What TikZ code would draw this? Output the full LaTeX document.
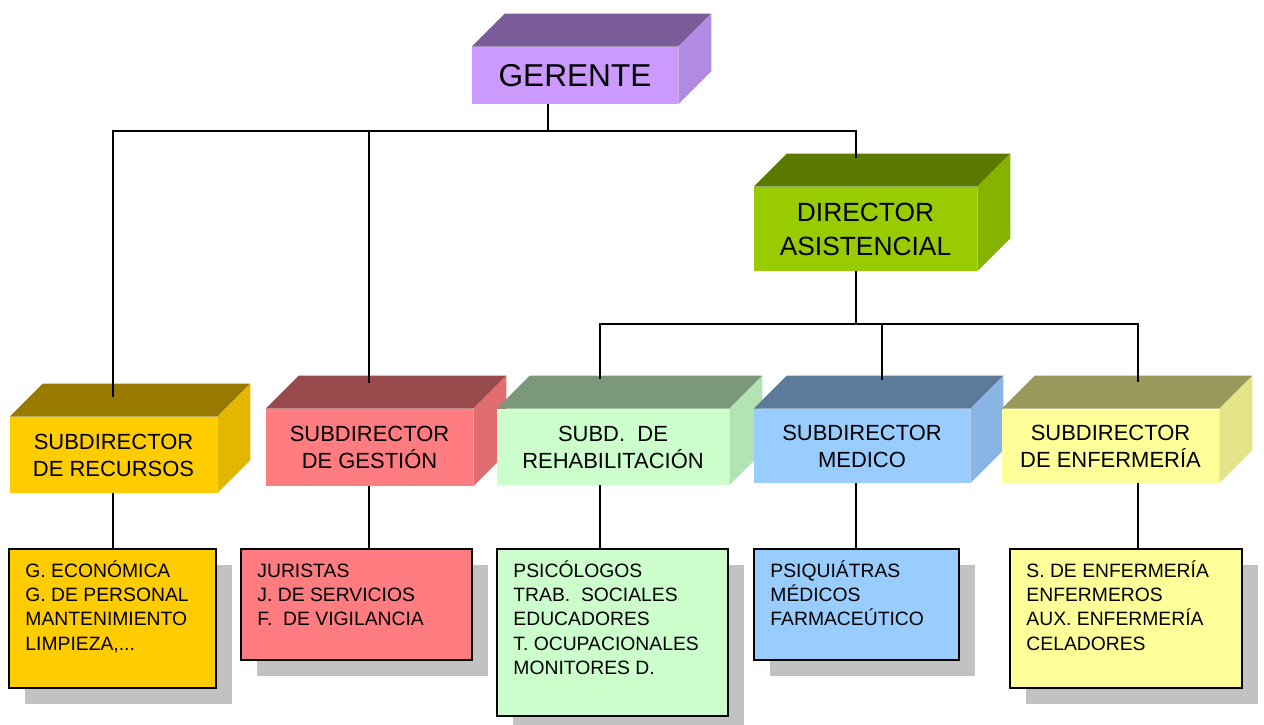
\documentclass[tikz,border=0pt]{standalone}
\usepackage{fontspec}
\setmainfont{Liberation Sans}
\usepackage{xcolor}
\usetikzlibrary{calc,backgrounds,shadows}
\definecolor{gerfront}{HTML}{CC99FF}
\definecolor{gertop}{HTML}{7A5C99}
\definecolor{gerside}{HTML}{B38AE3}
\definecolor{dirfront}{HTML}{99CC00}
\definecolor{dirtop}{HTML}{5C7A00}
\definecolor{dirside}{HTML}{85B300}
\definecolor{recfront}{HTML}{FFCC00}
\definecolor{rectop}{HTML}{997A00}
\definecolor{recside}{HTML}{E3B600}
\definecolor{gesfront}{HTML}{FF7C80}
\definecolor{gestop}{HTML}{994A4D}
\definecolor{gesside}{HTML}{E06D70}
\definecolor{rehfront}{HTML}{CCFFCC}
\definecolor{rehtop}{HTML}{7A997A}
\definecolor{rehside}{HTML}{B3E3B3}
\definecolor{medfront}{HTML}{99CCFF}
\definecolor{medtop}{HTML}{5C7A99}
\definecolor{medside}{HTML}{88B5E3}
\definecolor{enffront}{HTML}{FFFF99}
\definecolor{enftop}{HTML}{99995C}
\definecolor{enfside}{HTML}{E3E388}
\definecolor{shadowgray}{HTML}{C2C2C2}

\begin{document}
\begin{tikzpicture}[
    x=0.02cm, y=-0.02cm,
    cube/.style={rectangle, inner sep=0pt, align=center},
    subbox/.style={cube, font=\fontsize{12.5}{15.3}\selectfont},
    listbox/.style={rectangle, draw=black, line width=1.1pt, inner sep=0pt,
        drop shadow={shadow xshift=0.32cm, shadow yshift=-0.32cm, fill=shadowgray, opacity=1}},
    listtext/.style={anchor=base west, align=left, inner sep=0pt, font=\fontsize{11}{13.8}\selectfont},
    link/.style={draw=black, line width=1pt}
]
    \useasboundingbox (0,0) rectangle (1264,724);

    % Node Gerente and Director
    \node (ger) [cube, fill=gerfront, minimum width=4.12cm, minimum height=1.14cm, font=\fontsize{18}{21}\selectfont] at (575,75.5) {GERENTE};
    \node (dir) [cube, fill=dirfront, minimum width=4.46cm, minimum height=1.68cm, font=\fontsize{15}{19.3}\selectfont] at (865.5,229) {DIRECTOR\\ASISTENCIAL};

    % Node Subdirectores
    \node (srec) [subbox, fill=recfront, minimum width=4.14cm, minimum height=1.52cm] at (113.5,455) {SUBDIRECTOR\\DE RECURSOS};
    \node (sges) [subbox, fill=gesfront, minimum width=4.14cm, minimum height=1.54cm] at (369.5,447.5) {SUBDIRECTOR\\DE GESTIÓN};
    \node (sreh) [subbox, fill=rehfront, minimum width=4.64cm, minimum height=1.52cm] at (613,447) {SUBD.\ \ DE\\REHABILITACIÓN};
    \node (smed) [subbox, fill=medfront, minimum width=4.32cm, minimum height=1.48cm] at (862,446) {SUBDIRECTOR\\MEDICO};
    \node (senf) [subbox, fill=enffront, minimum width=4.34cm, minimum height=1.48cm] at (1110.5,446) {SUBDIRECTOR\\DE ENFERMERÍA};

    % Top and side faces
    \begin{scope}[on background layer]
        \foreach \n/\t/\s in {ger/gertop/gerside, dir/dirtop/dirside, srec/rectop/recside, sges/gestop/gesside,
                              sreh/rehtop/rehside, smed/medtop/medside, senf/enftop/enfside} {
            \fill[\t] (\n.north west) -- ++(33,-33) -- ($(\n.north east)+(33,-33)$) -- (\n.north east) -- cycle;
            \fill[\s] (\n.north east) -- ++(33,-33) -- ($(\n.south east)+(33,-33)$) -- (\n.south east) -- cycle;
        }
    \end{scope}

    % Node Lists
    \node (lrec) [listbox, fill=recfront, minimum width=4.14cm, minimum height=2.78cm] at (112.5,618.5) {};
    \node (lges) [listbox, fill=gesfront, minimum width=4.62cm, minimum height=2.22cm] at (356.5,604.5) {};
    \node (lreh) [listbox, fill=rehfront, minimum width=4.62cm, minimum height=3.34cm] at (612.5,632.5) {};
    \node (lmed) [listbox, fill=medfront, minimum width=4.10cm, minimum height=2.22cm] at (856.5,604.5) {};
    \node (lenf) [listbox, fill=enffront, minimum width=4.64cm, minimum height=2.78cm] at (1126,618.5) {};

    % list texts (base is the last line)
    \node (lrect) [listtext] at ($(lrec.north west)+(17,102)$) {G. ECONÓMICA\\G. DE PERSONAL\\MANTENIMIENTO\\LIMPIEZA,...};
    \node (lgest) [listtext] at ($(lges.north west)+(17,77.6)$) {JURISTAS\\J. DE SERVICIOS\\F.\ \ DE VIGILANCIA};
    \node (lreht) [listtext] at ($(lreh.north west)+(17,126.2)$) {PSICÓLOGOS\\TRAB.\ \ SOCIALES\\EDUCADORES\\T. OCUPACIONALES\\MONITORES D.};
    \node (lmedt) [listtext] at ($(lmed.north west)+(17,77.6)$) {PSIQUIÁTRAS\\MÉDICOS\\FARMACEÚTICO};
    \node (lenft) [listtext] at ($(lenf.north west)+(17,102)$) {S. DE ENFERMERÍA\\ENFERMEROS\\AUX. ENFERMERÍA\\CELADORES};

    % Connectors
    \coordinate (gbus) at (548,131);
    \coordinate (dbus) at (856,324);
    \coordinate (dirin) at (856,158);
    \coordinate (srecin) at (113,397);
    \coordinate (sgesin) at (369,383);
    \coordinate (srehin) at (600,379);
    \coordinate (smedin) at (882,380);
    \coordinate (senfin) at (1138,382);

    \draw [link] (ger.south -| gbus) -- (gbus);
    \draw [link] (srecin) |- (gbus) -| (dirin);
    \draw [link] (sgesin) -- (sgesin |- gbus);
    \draw [link] (dir.south -| dbus) -- (dbus);
    \draw [link] (srehin) |- (dbus) -| (senfin);
    \draw [link] (smedin) -- (smedin |- dbus);

    \foreach \s/\l/\x in {srec/lrec/113, sges/lges/369, sreh/lreh/600, smed/lmed/856, senf/lenf/1138}
        \draw [link] (\s.south -| \x,0) -- (\l.north -| \x,0);
\end{tikzpicture}
\end{document}
